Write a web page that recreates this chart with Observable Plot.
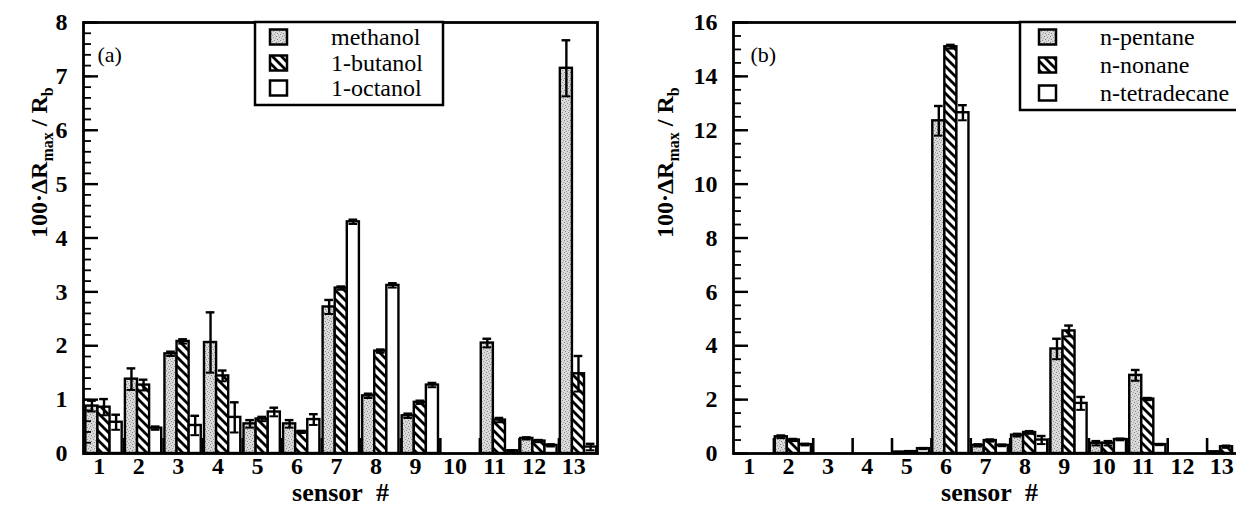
<!DOCTYPE html>
<html><head><meta charset="utf-8">
<script src="https://cdn.jsdelivr.net/npm/d3@7"></script>
<script src="https://cdn.jsdelivr.net/npm/@observablehq/plot@0.6"></script>
<style>
html,body{margin:0;padding:0;background:#fff;overflow:hidden;}
#wrap{display:flex;width:1236px;height:518px;overflow:hidden;}
#wrap svg{flex:none;display:block;}
</style></head>
<body>
<svg width="0" height="0" style="position:absolute">
<defs>
<pattern id="stipple" patternUnits="userSpaceOnUse" width="6" height="6">
 <rect width="6" height="6" fill="#d9d9d9"/>
 <rect x="0" y="0" width="1" height="1" fill="#808080"/>
 <rect x="3" y="1" width="1" height="1" fill="#909090"/>
 <rect x="1" y="3" width="1" height="1" fill="#808080"/>
 <rect x="4" y="4" width="1" height="1" fill="#909090"/>
 <rect x="5" y="2" width="1" height="1" fill="#a0a0a0"/>
 <rect x="2" y="5" width="1" height="1" fill="#a0a0a0"/>
</pattern>
<pattern id="hatch" patternUnits="userSpaceOnUse" width="9" height="9">
 <rect width="9" height="9" fill="#fff"/>
 <path d="M-3,-3L12,12M-3,6L3,12M6,-3L12,3" stroke="#000" stroke-width="2.8"/>
</pattern>
</defs></svg>
<div id="wrap"></div>
<script>
// ---------- data ----------
const sensors = [1, 2, 3, 4, 5, 6, 7, 8, 9, 10, 11, 12, 13];

// panel (a): alcohols
const methanol    = [0.88, 1.38, 1.85, 2.06, 0.55, 0.55, 2.72, 1.07, 0.70, 0, 2.05, 0.28, 7.15];
const methanolErr = [0.10, 0.20, 0.04, 0.56, 0.07, 0.07, 0.13, 0.04, 0.04, 0, 0.08, 0.02, 0.52];
const butanol     = [0.86, 1.27, 2.08, 1.44, 0.64, 0.40, 3.07, 1.90, 0.95, 0, 0.62, 0.23, 1.48];
const butanolErr  = [0.15, 0.10, 0.04, 0.10, 0.04, 0.02, 0.03, 0.03, 0.03, 0, 0.04, 0.02, 0.33];
const octanol     = [0.58, 0.47, 0.52, 0.67, 0.77, 0.63, 4.30, 3.12, 1.27, 0, 0.05, 0.15, 0.12];
const octanolErr  = [0.14, 0.03, 0.18, 0.28, 0.08, 0.10, 0.04, 0.04, 0.04, 0, 0.01, 0.02, 0.06];

// panel (b): alkanes
const pentane        = [0, 0.62, 0, 0, 0.05, 12.35, 0.30, 0.68, 3.88, 0.38, 2.90, 0, 0.06];
const pentaneErr     = [0, 0.05, 0, 0, 0.01, 0.55, 0.04, 0.05, 0.38, 0.08, 0.20, 0, 0.01];
const nonane         = [0, 0.50, 0, 0, 0.07, 15.10, 0.48, 0.78, 4.55, 0.38, 2.02, 0, 0.25];
const nonaneErr      = [0, 0.04, 0, 0, 0.01, 0.07, 0.04, 0.05, 0.20, 0.08, 0.04, 0, 0.04];
const tetradecane    = [0, 0.33, 0, 0, 0.18, 12.65, 0.30, 0.50, 1.86, 0.52, 0.33, 0, 0];
const tetradecaneErr = [0, 0.03, 0, 0, 0.02, 0.28, 0.03, 0.15, 0.24, 0.03, 0.02, 0, 0];

const namesA = ["methanol", "1-butanol", "1-octanol"];
const namesB = ["n-pentane", "n-nonane", "n-tetradecane"];
const yTicksA = [0, 1, 2, 3, 4, 5, 6, 7, 8];
const yTicksB = [0, 2, 4, 6, 8, 10, 12, 14, 16];
const xLabel = "sensor\u00a0\u00a0#";
const Y_TITLE = "100·ΔR_max / R_b";

// ---------- style ----------
const FONT = "Liberation Serif, DejaVu Serif, Times, Liberation Sans, sans-serif";
const fills = ["url(#stipple)", "url(#hatch)", "#ffffff"];
const O = 0.06, W = 0.306, CAP = 0.22, STUB_PX = 15;
const H = 518, MT = 22, MB = 65;

function panel(cfg) {
  const {series, yTicks, minorStep, marginLeft, marginRight, width, tag, tagDx, titleDx} = cfg;
  const yMax = yTicks[yTicks.length - 1];
  const plotW = width - marginLeft - marginRight;
  const plotH = H - MT - MB;
  const idx = d3.range(sensors.length);
  const minor = d3.range(0, yMax + 1e-9, minorStep);
  const stubTop = yMax * STUB_PX / plotH;
  const marks = [];
  series.forEach((s, k) => {
    marks.push(Plot.rect(idx, {
      filter: i => s.values[i] > 0,
      x1: i => sensors[i] - 0.5 + O + k * W,
      x2: i => sensors[i] - 0.5 + O + (k + 1) * W,
      y1: 0, y2: i => s.values[i],
      fill: s.fill, stroke: "#000", strokeWidth: 2.4
    }));
  });
  // small separators at the start of each sensor group
  marks.push(Plot.rect(idx.slice(1), {
    x1: i => sensors[i] - 0.5 + 0.005, x2: i => sensors[i] - 0.5 + 0.07,
    y1: 0, y2: i => stubTop, fill: "#000"
  }));
  series.forEach((s, k) => {
    const xc = i => sensors[i] - 0.5 + O + (k + 0.5) * W;
    const has = i => s.values[i] > 0 && s.err[i] > 0;
    marks.push(Plot.ruleX(idx, {filter: has, x: xc, y1: i => Math.max(0, s.values[i] - s.err[i]), y2: i => s.values[i] + s.err[i], stroke: "#000", strokeWidth: 2.4}));
    marks.push(Plot.ruleY(idx, {filter: has, y: i => s.values[i] + s.err[i], x1: i => xc(i) - CAP / 2, x2: i => xc(i) + CAP / 2, stroke: "#000", strokeWidth: 2.4}));
    marks.push(Plot.ruleY(idx, {filter: has, y: i => Math.max(0, s.values[i] - s.err[i]), x1: i => xc(i) - CAP / 2, x2: i => xc(i) + CAP / 2, stroke: "#000", strokeWidth: 2}));
  });
  // inward y ticks
  marks.push(Plot.tickY(minor, {y: d => d, insetRight: plotW - 8, stroke: "#000", strokeWidth: 1.8}));
  marks.push(Plot.tickY(yTicks, {y: d => d, insetRight: plotW - 15, stroke: "#000", strokeWidth: 2.4}));
  marks.push(Plot.frame({stroke: "#000", strokeWidth: 2.8}));
  // x tick labels
  marks.push(Plot.text(sensors, {x: d => d, frameAnchor: "bottom", dy: 20, dx: -4, text: d => String(d), fontSize: 24, fontWeight: "bold"}));
  marks.push(Plot.text([xLabel], {frameAnchor: "bottom", dy: 47, text: d => d, fontSize: 26, fontWeight: "bold"}));
  marks.push(Plot.text([Y_TITLE], {frameAnchor: "left", dx: titleDx, rotate: -90, text: d => d, fontSize: 24, fontWeight: "bold"}));
  marks.push(Plot.text([tag], {frameAnchor: "top-left", dx: tagDx, dy: 24, text: d => d, textAnchor: "start", fontSize: 22, fontWeight: "normal"}));

  const svg = Plot.plot({
    width, height: H, marginLeft, marginRight, marginTop: MT, marginBottom: MB,
    style: {fontFamily: FONT, fontSize: "24px", fontWeight: "bold", background: "white", color: "black", maxWidth: "none", overflow: "hidden"},
    x: {type: "linear", domain: [0.5, 13.5], axis: null},
    y: {domain: [0, yMax], ticks: yTicks, tickSize: 0, tickPadding: 16, label: null, tickFormat: d => String(d)},
    marks
  });

  // subscripts in y title
  d3.select(svg).selectAll("text").filter(function () { return this.textContent === Y_TITLE; }).each(function () {
    const t = d3.select(this);
    t.text(null);
    t.append("tspan").text("100·ΔR");
    t.append("tspan").attr("font-size", 16).attr("dy", 6).text("max");
    t.append("tspan").attr("dy", -6).text(" / R");
    t.append("tspan").attr("font-size", 16).attr("dy", 6).text("b");
  });

  // legend box
  const L = cfg.legend;
  const g = d3.select(svg).append("g").attr("font-size", 24).attr("font-weight", "normal")
    .attr("fill", "#000").attr("text-anchor", "start");
  g.append("rect").attr("x", L.x).attr("y", MT).attr("width", L.w).attr("height", L.h)
    .attr("fill", "#fff").attr("stroke", "#000").attr("stroke-width", 2.5);
  series.forEach((s, k) => {
    const cy = L.rows[k];
    g.append("rect").attr("x", L.sx).attr("y", cy - 7.5).attr("width", 17).attr("height", 15)
      .attr("fill", s.fill).attr("stroke", "#000").attr("stroke-width", 2.5);
    g.append("text").attr("x", L.tx).attr("y", cy).attr("dy", "0.33em").attr("text-anchor", "start").text(s.name);
  });
  return svg;
}

const wrap = document.getElementById("wrap");
wrap.appendChild(panel({
  series: [
    {name: namesA[0], values: methanol, err: methanolErr, fill: fills[0]},
    {name: namesA[1], values: butanol, err: butanolErr, fill: fills[1]},
    {name: namesA[2], values: octanol, err: octanolErr, fill: fills[2]}
  ],
  yTicks: yTicksA, minorStep: 0.2,
  marginLeft: 83, marginRight: 21, width: 618,
  tag: "(a)", tagDx: 14, titleDx: -44,
  legend: {x: 255, w: 188, h: 83, sx: 270, tx: 331, rows: [37, 63, 88]}
}));
wrap.appendChild(panel({
  series: [
    {name: namesB[0], values: pentane, err: pentaneErr, fill: fills[0]},
    {name: namesB[1], values: nonane, err: nonaneErr, fill: fills[1]},
    {name: namesB[2], values: tetradecane, err: tetradecaneErr, fill: fills[2]}
  ],
  yTicks: yTicksB, minorStep: 0.5,
  marginLeft: 115, marginRight: 10, width: 637,
  tag: "(b)", tagDx: 17, titleDx: -68,
  legend: {x: 402, w: 240, h: 88, sx: 421, tx: 482, rows: [37, 65, 93]}
}));
</script>
</body></html>
